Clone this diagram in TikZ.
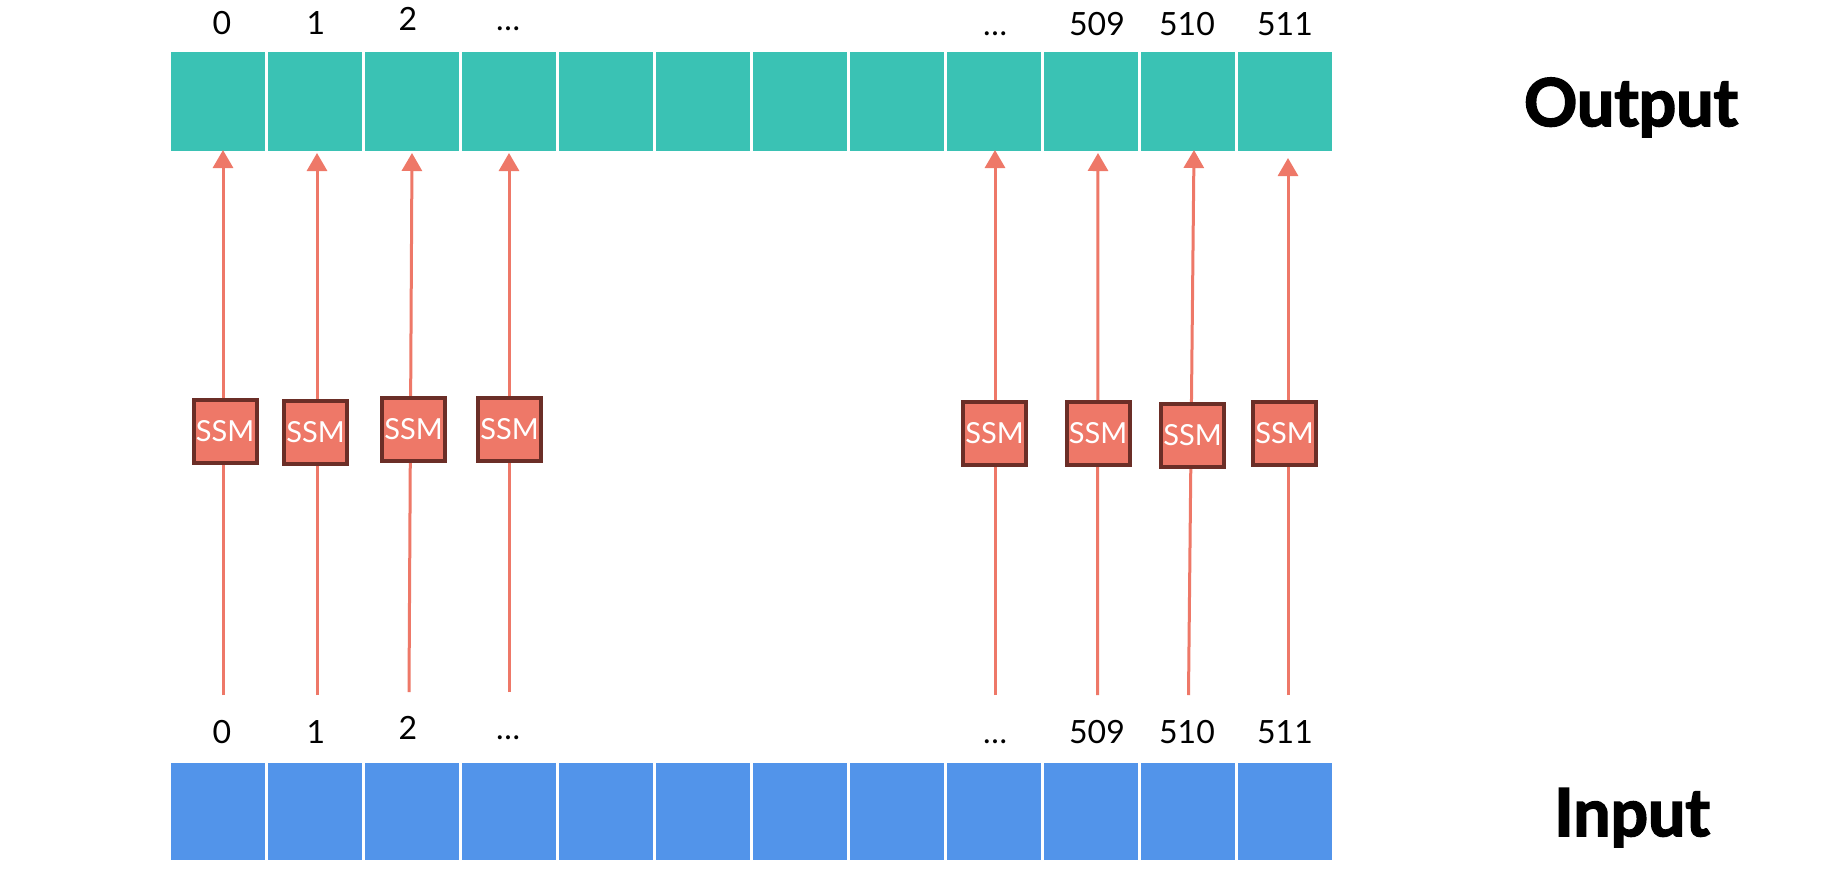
\documentclass[tikz,border=0pt]{standalone}
\usepackage{fontspec}
\setmainfont{Lato}
\newfontfamily\heavyfont[BoldFeatures={FakeBold=2.5}]{Lato}
\usetikzlibrary{arrows.meta}
\definecolor{outteal}{HTML}{3AC2B4}
\definecolor{inblue}{HTML}{5294EA}
\definecolor{salmon}{HTML}{EE7868}
\definecolor{ssmborder}{HTML}{6B2E27}
\begin{document}
\begin{tikzpicture}[x=1pt,y=-1pt,
  outcell/.style={fill=outteal,draw=none,minimum width=94pt,minimum height=99pt,inner sep=0pt},
  incell/.style={fill=inblue,draw=none,minimum width=94pt,minimum height=97pt,inner sep=0pt},
  lab/.style={anchor=base,font=\fontsize{32}{32}\selectfont,inner sep=0pt},
  ssmbox/.style={fill=salmon,draw=ssmborder,line width=4pt,minimum size=63pt,inner sep=0pt,text=white,font=\fontsize{29}{29}\selectfont},
  conn/.style={draw=salmon,line width=3pt},
  arr/.style={conn,-{Triangle[width=20pt,length=18pt]}},
  title/.style={anchor=base,font=\fontsize{66}{66}\selectfont\heavyfont\bfseries,inner sep=0pt}
]
\useasboundingbox (0,0) rectangle (1826,868);
\fill[white] (0,0) rectangle (1826,868);

% cells
\foreach \i in {0,...,11}{
  \node[outcell] (o\i) at ({218+97*\i},101.5) {};
  \node[incell] (i\i) at ({218+97*\i},811.5) {};
}

% top labels
\node[lab] (lt0) at (222,34) {0};
\node[lab] (lt1) at (316,34) {1};
\node[lab] (lt2) at (408,30) {2};
\node[lab] (lt3) at (508,30) {…};
\node[lab] (lt8) at (995,35) {…};
\node[lab] (lt9) at (1097,35) {509};
\node[lab] (lt10) at (1187,35) {510};
\node[lab] (lt11) at (1285,35) {511};

% bottom labels
\node[lab] (lb0) at (222,743) {0};
\node[lab] (lb1) at (316,743) {1};
\node[lab] (lb2) at (408,739) {2};
\node[lab] (lb3) at (508,739) {…};
\node[lab] (lb8) at (995,743) {…};
\node[lab] (lb9) at (1097,743) {509};
\node[lab] (lb10) at (1187,743) {510};
\node[lab] (lb11) at (1285,743) {511};

% connector end points
\coordinate (b0) at (223,695);  \coordinate (t0) at (223,150);
\coordinate (b1) at (317,695);  \coordinate (t1) at (317,153);
\coordinate (b2) at (409,692);  \coordinate (t2) at (412,153);
\coordinate (b3) at (509,692);  \coordinate (t3) at (509,153);
\coordinate (b8) at (995,695);  \coordinate (t8) at (995,150);
\coordinate (b9) at (1097.5,695); \coordinate (t9) at (1098,153);
\coordinate (b10) at (1188.5,695); \coordinate (t10) at (1194,150);
\coordinate (b11) at (1288,695); \coordinate (t11) at (1288,158);

% SSM boxes positions
\coordinate (p0) at (225,431.5);
\coordinate (p1) at (315.5,432.5);
\coordinate (p2) at (413.5,429.5);
\coordinate (p3) at (509.5,429.5);
\coordinate (p8) at (994.5,433.5);
\coordinate (p9) at (1098,433.5);
\coordinate (p10) at (1192.5,435.5);
\coordinate (p11) at (1284.5,433.5);

% connectors behind boxes
\foreach \i in {0,1,2,3,8,9,10,11}{
  \draw[arr] (b\i) -- (t\i);
}
\foreach \i in {0,1,2,3,8,9,10,11}{
  \node[ssmbox] (s\i) at (p\i) {SSM};
}

% titles
\node[title] (outtitle) at (1631,126) {Output};
\node[title] (intitle) at (1632,836) {Input};
\end{tikzpicture}
\end{document}
